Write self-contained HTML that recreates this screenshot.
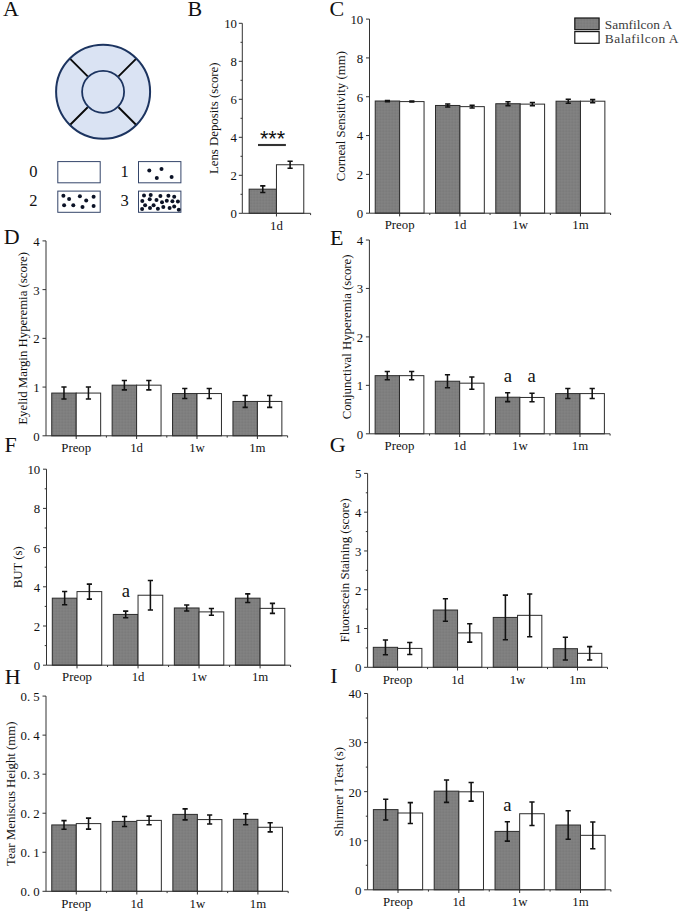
<!DOCTYPE html>
<html lang="en"><head><meta charset="utf-8"><title>Figure</title>
<style>
html,body{margin:0;padding:0;background:#fff}
svg{display:block}
text{font-family:"Liberation Serif","Times New Roman",serif;font-size:12.8px;fill:#111}
.pl{font-size:22px;fill:#111}
.lg{font-family:"Liberation Serif","Liberation Mono",serif;font-size:13.4px;fill:#3a3a3a}
.nm{font-size:16.5px;fill:#111}
</style></head><body>
<svg width="685" height="913" viewBox="0 0 685 913">
<defs>
<pattern id="gp" width="3" height="3" patternUnits="userSpaceOnUse">
<rect width="3" height="3" fill="#7f7f7f"/>
<rect width="1.5" height="1.5" fill="#828282"/>
<rect x="1.5" y="1.5" width="1.5" height="1.5" fill="#7b7b7b"/>
</pattern>
</defs>
<rect width="685" height="913" fill="#fff"/>

<text class="pl" x="3" y="16.3">A</text>
<text class="pl" x="187.5" y="16.3">B</text>
<text class="pl" x="329.5" y="16.1">C</text>
<text class="pl" x="3.8" y="244">D</text>
<text class="pl" x="330" y="244.5">E</text>
<text class="pl" x="4.5" y="452.3">F</text>
<text class="pl" x="329.8" y="452.3">G</text>
<text class="pl" x="4.8" y="683.6">H</text>
<text class="pl" x="330.3" y="683">I</text>
<circle cx="103.1" cy="91.8" r="47.0" fill="#dae3f3" stroke="#1c3460" stroke-width="2"/>
<circle cx="103.1" cy="91.8" r="21.0" fill="#dae3f3" stroke="#1c3460" stroke-width="1.8"/>
<path d="M118.51 107.21L135.77 124.47M118.51 76.39L135.77 59.13M87.69 107.21L70.43 124.47M87.69 76.39L70.43 59.13" stroke="#0a0a0a" stroke-width="1.9" fill="none"/>
<rect x="57.8" y="161.6" width="42.4" height="21.2" fill="#fff" stroke="#34456a" stroke-width="1"/>
<rect x="138.5" y="161.6" width="42.4" height="21.2" fill="#fff" stroke="#34456a" stroke-width="1"/>
<rect x="57.8" y="191.1" width="42.4" height="21.2" fill="#fff" stroke="#34456a" stroke-width="1"/>
<rect x="138.5" y="191.1" width="42.4" height="21.2" fill="#fff" stroke="#34456a" stroke-width="1"/>
<text class="nm" x="29.3" y="176.9">0</text>
<text class="nm" x="120.4" y="176.9">1</text>
<text class="nm" x="29.3" y="205.8">2</text>
<text class="nm" x="120.6" y="205.8">3</text>
<g fill="#0b1226"><circle cx="149.3" cy="170.5" r="2"/><circle cx="161.5" cy="169" r="2"/><circle cx="156.8" cy="177.9" r="2"/><circle cx="171.6" cy="176.9" r="2"/><circle cx="63.4" cy="195.7" r="2"/><circle cx="69.1" cy="199.1" r="2"/><circle cx="79.9" cy="196.2" r="2"/><circle cx="86.2" cy="200.4" r="2"/><circle cx="93.6" cy="196.8" r="2"/><circle cx="64.1" cy="205.2" r="2"/><circle cx="73.3" cy="205.2" r="2"/><circle cx="82.5" cy="207" r="2"/><circle cx="93.6" cy="206" r="2"/><circle cx="144.0" cy="195.6" r="2"/><circle cx="150.7" cy="194.9" r="2"/><circle cx="160.4" cy="195.9" r="2"/><circle cx="168.4" cy="195.7" r="2"/><circle cx="174.2" cy="196.7" r="2"/><circle cx="142.3" cy="200.9" r="2"/><circle cx="149.7" cy="199.2" r="2"/><circle cx="156.5" cy="199.9" r="2"/><circle cx="162.0" cy="202.3" r="2"/><circle cx="166.8" cy="200.7" r="2"/><circle cx="172.4" cy="201.2" r="2"/><circle cx="177.9" cy="201.6" r="2"/><circle cx="145.1" cy="205.2" r="2"/><circle cx="153.6" cy="205.2" r="2"/><circle cx="163.3" cy="207.1" r="2"/><circle cx="174.2" cy="206.4" r="2"/><circle cx="142.1" cy="209.0" r="2"/><circle cx="150.0" cy="208.0" r="2"/><circle cx="157.9" cy="208.7" r="2"/><circle cx="169.6" cy="208.0" r="2"/><circle cx="178.8" cy="209.7" r="2"/></g>
<g><rect x="249.13" y="189.17" width="27.32" height="24.13" fill="url(#gp)" stroke="#2b2b2b" stroke-width="1"/><rect x="276.45" y="164.75" width="27.32" height="48.55" fill="#fff" stroke="#2b2b2b" stroke-width="1"/><path d="M262.79 185.87V192.47M260.19 185.87H265.39M260.19 192.47H265.39" stroke="#111" stroke-width="1.55" fill="none"/><path d="M290.11 161.31V168.2M287.51 161.31H292.71M287.51 168.2H292.71" stroke="#111" stroke-width="1.55" fill="none"/><path d="M242.3 23.3V213.3H310.6M238.8 213.3H242.3M238.8 175.3H242.3M238.8 137.3H242.3M238.8 99.3H242.3M238.8 61.3H242.3M238.8 23.3H242.3M240.5 194.3H242.3M240.5 156.3H242.3M240.5 118.3H242.3M240.5 80.3H242.3M240.5 42.3H242.3M276.45 213.3v3.2M310.6 213.3v1.8" stroke="#333" stroke-width="1" fill="none"/><text x="237" y="218.2" text-anchor="end">0</text><text x="237" y="180.2" text-anchor="end">2</text><text x="237" y="142.2" text-anchor="end">4</text><text x="237" y="104.2" text-anchor="end">6</text><text x="237" y="66.2" text-anchor="end">8</text><text x="237" y="28.2" text-anchor="end">10</text><text x="276.45" y="229.5" text-anchor="middle">1d</text><text transform="translate(218.4 118.3) rotate(-90)" text-anchor="middle">Lens Deposits (score)</text></g>
<path d="M258 145H285.9" stroke="#333" stroke-width="2.1"/>
<text x="272.5" y="145.6" text-anchor="middle" style="font-family:'Liberation Sans',sans-serif;font-size:21.5px;fill:#111">***</text>
<g><rect x="375.23" y="101.01" width="24.41" height="112.19" fill="url(#gp)" stroke="#2b2b2b" stroke-width="1"/><rect x="399.64" y="101.59" width="24.41" height="111.61" fill="#fff" stroke="#2b2b2b" stroke-width="1"/><path d="M387.43 100.41V101.61M384.83 100.41H390.03M384.83 101.61H390.03" stroke="#111" stroke-width="1.55" fill="none"/><path d="M411.84 101.09V102.09M409.24 101.09H414.44M409.24 102.09H414.44" stroke="#111" stroke-width="1.55" fill="none"/><rect x="435.5" y="105.47" width="24.41" height="107.73" fill="url(#gp)" stroke="#2b2b2b" stroke-width="1"/><rect x="459.91" y="106.64" width="24.41" height="106.56" fill="#fff" stroke="#2b2b2b" stroke-width="1"/><path d="M447.71 103.97V106.97M445.11 103.97H450.31M445.11 106.97H450.31" stroke="#111" stroke-width="1.55" fill="none"/><path d="M472.12 105.24V108.04M469.52 105.24H474.72M469.52 108.04H474.72" stroke="#111" stroke-width="1.55" fill="none"/><rect x="495.78" y="103.73" width="24.41" height="109.47" fill="url(#gp)" stroke="#2b2b2b" stroke-width="1"/><rect x="520.19" y="104.12" width="24.41" height="109.08" fill="#fff" stroke="#2b2b2b" stroke-width="1"/><path d="M507.98 101.83V105.63M505.38 101.83H510.58M505.38 105.63H510.58" stroke="#111" stroke-width="1.55" fill="none"/><path d="M532.39 102.52V105.72M529.79 102.52H534.99M529.79 105.72H534.99" stroke="#111" stroke-width="1.55" fill="none"/><rect x="556.05" y="101.2" width="24.41" height="112" fill="url(#gp)" stroke="#2b2b2b" stroke-width="1"/><rect x="580.46" y="101.2" width="24.41" height="112" fill="#fff" stroke="#2b2b2b" stroke-width="1"/><path d="M568.26 99.2V103.2M565.66 99.2H570.86M565.66 103.2H570.86" stroke="#111" stroke-width="1.55" fill="none"/><path d="M592.67 99.6V102.8M590.07 99.6H595.27M590.07 102.8H595.27" stroke="#111" stroke-width="1.55" fill="none"/><path d="M369.5 19.1V213.2H610.6M366 213.2H369.5M366 174.38H369.5M366 135.56H369.5M366 96.74H369.5M366 57.92H369.5M366 19.1H369.5M399.64 213.2v3.2M429.77 213.2v1.8M459.91 213.2v3.2M490.05 213.2v1.8M520.19 213.2v3.2M550.33 213.2v1.8M580.46 213.2v3.2M610.6 213.2v1.8" stroke="#333" stroke-width="1" fill="none"/><text x="363.2" y="218.1" text-anchor="end">0</text><text x="363.2" y="179.28" text-anchor="end">2</text><text x="363.2" y="140.46" text-anchor="end">4</text><text x="363.2" y="101.64" text-anchor="end">6</text><text x="363.2" y="62.82" text-anchor="end">8</text><text x="363.2" y="24" text-anchor="end">10</text><text x="399.64" y="229.4" text-anchor="middle">Preop</text><text x="459.91" y="229.4" text-anchor="middle">1d</text><text x="520.19" y="229.4" text-anchor="middle">1w</text><text x="580.46" y="229.4" text-anchor="middle">1m</text><text transform="translate(345.2 116.15) rotate(-90)" text-anchor="middle">Corneal Sensitivity (mm)</text></g>
<rect x="574.8" y="18" width="24.3" height="11.7" fill="url(#gp)" stroke="#151515" stroke-width="1.2"/>
<rect x="574.8" y="31.6" width="24.3" height="11.7" fill="#fff" stroke="#151515" stroke-width="1.2"/>
<text class="lg" x="604.8" y="28.9" textLength="67.3" lengthAdjust="spacing">Samfilcon A</text>
<text class="lg" x="604.8" y="42.6" textLength="73.6" lengthAdjust="spacing">Balafilcon A</text>
<g><rect x="51.74" y="393.07" width="24.46" height="42.73" fill="url(#gp)" stroke="#2b2b2b" stroke-width="1"/><rect x="76.2" y="393.07" width="24.46" height="42.73" fill="#fff" stroke="#2b2b2b" stroke-width="1"/><path d="M63.97 387.07V399.07M61.37 387.07H66.57M61.37 399.07H66.57" stroke="#111" stroke-width="1.55" fill="none"/><path d="M88.43 387.07V399.07M85.83 387.07H91.03M85.83 399.07H91.03" stroke="#111" stroke-width="1.55" fill="none"/><rect x="112.14" y="385.17" width="24.46" height="50.63" fill="url(#gp)" stroke="#2b2b2b" stroke-width="1"/><rect x="136.6" y="385.17" width="24.46" height="50.63" fill="#fff" stroke="#2b2b2b" stroke-width="1"/><path d="M124.37 380.47V389.87M121.77 380.47H126.97M121.77 389.87H126.97" stroke="#111" stroke-width="1.55" fill="none"/><path d="M148.83 380.47V389.87M146.23 380.47H151.43M146.23 389.87H151.43" stroke="#111" stroke-width="1.55" fill="none"/><rect x="172.54" y="393.56" width="24.46" height="42.24" fill="url(#gp)" stroke="#2b2b2b" stroke-width="1"/><rect x="197" y="393.56" width="24.46" height="42.24" fill="#fff" stroke="#2b2b2b" stroke-width="1"/><path d="M184.77 388.56V398.56M182.17 388.56H187.37M182.17 398.56H187.37" stroke="#111" stroke-width="1.55" fill="none"/><path d="M209.23 388.56V398.56M206.63 388.56H211.83M206.63 398.56H211.83" stroke="#111" stroke-width="1.55" fill="none"/><rect x="232.94" y="401.45" width="24.46" height="34.35" fill="url(#gp)" stroke="#2b2b2b" stroke-width="1"/><rect x="257.4" y="401.45" width="24.46" height="34.35" fill="#fff" stroke="#2b2b2b" stroke-width="1"/><path d="M245.17 395.55V407.35M242.57 395.55H247.77M242.57 407.35H247.77" stroke="#111" stroke-width="1.55" fill="none"/><path d="M269.63 395.55V407.35M267.03 395.55H272.23M267.03 407.35H272.23" stroke="#111" stroke-width="1.55" fill="none"/><path d="M46 240.9V435.8H287.6M42.5 435.8H46M42.5 387.07H46M42.5 338.35H46M42.5 289.62H46M42.5 240.9H46M76.2 435.8v3.2M106.4 435.8v1.8M136.6 435.8v3.2M166.8 435.8v1.8M197 435.8v3.2M227.2 435.8v1.8M257.4 435.8v3.2M287.6 435.8v1.8" stroke="#333" stroke-width="1" fill="none"/><text x="39.7" y="440.7" text-anchor="end">0</text><text x="39.7" y="391.97" text-anchor="end">1</text><text x="39.7" y="343.25" text-anchor="end">2</text><text x="39.7" y="294.52" text-anchor="end">3</text><text x="39.7" y="245.8" text-anchor="end">4</text><text x="76.2" y="452" text-anchor="middle">Preop</text><text x="136.6" y="452" text-anchor="middle">1d</text><text x="197" y="452" text-anchor="middle">1w</text><text x="257.4" y="452" text-anchor="middle">1m</text><text transform="translate(27.1 338.35) rotate(-90)" text-anchor="middle">Eyelid Margin Hyperemia (score)</text></g>
<g><rect x="375.12" y="375.66" width="24.37" height="58.14" fill="url(#gp)" stroke="#2b2b2b" stroke-width="1"/><rect x="399.49" y="375.66" width="24.37" height="58.14" fill="#fff" stroke="#2b2b2b" stroke-width="1"/><path d="M387.3 371.56V379.76M384.7 371.56H389.9M384.7 379.76H389.9" stroke="#111" stroke-width="1.55" fill="none"/><path d="M411.67 371.56V379.76M409.07 371.56H414.27M409.07 379.76H414.27" stroke="#111" stroke-width="1.55" fill="none"/><rect x="435.29" y="381.23" width="24.37" height="52.57" fill="url(#gp)" stroke="#2b2b2b" stroke-width="1"/><rect x="459.66" y="383.17" width="24.37" height="50.63" fill="#fff" stroke="#2b2b2b" stroke-width="1"/><path d="M447.48 374.73V387.73M444.88 374.73H450.08M444.88 387.73H450.08" stroke="#111" stroke-width="1.55" fill="none"/><path d="M471.85 377.07V389.27M469.25 377.07H474.45M469.25 389.27H474.45" stroke="#111" stroke-width="1.55" fill="none"/><rect x="495.47" y="397.22" width="24.37" height="36.58" fill="url(#gp)" stroke="#2b2b2b" stroke-width="1"/><rect x="519.84" y="397.46" width="24.37" height="36.34" fill="#fff" stroke="#2b2b2b" stroke-width="1"/><path d="M507.65 392.82V401.62M505.05 392.82H510.25M505.05 401.62H510.25" stroke="#111" stroke-width="1.55" fill="none"/><path d="M532.02 393.26V401.66M529.42 393.26H534.62M529.42 401.66H534.62" stroke="#111" stroke-width="1.55" fill="none"/><rect x="555.64" y="393.59" width="24.37" height="40.21" fill="url(#gp)" stroke="#2b2b2b" stroke-width="1"/><rect x="580.01" y="393.59" width="24.37" height="40.21" fill="#fff" stroke="#2b2b2b" stroke-width="1"/><path d="M567.83 388.59V398.59M565.23 388.59H570.43M565.23 398.59H570.43" stroke="#111" stroke-width="1.55" fill="none"/><path d="M592.2 388.59V398.59M589.6 388.59H594.8M589.6 398.59H594.8" stroke="#111" stroke-width="1.55" fill="none"/><path d="M369.4 240V433.8H610.1M365.9 433.8H369.4M365.9 385.35H369.4M365.9 336.9H369.4M365.9 288.45H369.4M365.9 240H369.4M399.49 433.8v3.2M429.57 433.8v1.8M459.66 433.8v3.2M489.75 433.8v1.8M519.84 433.8v3.2M549.92 433.8v1.8M580.01 433.8v3.2M610.1 433.8v1.8" stroke="#333" stroke-width="1" fill="none"/><text x="363.1" y="438.7" text-anchor="end">0</text><text x="363.1" y="390.25" text-anchor="end">1</text><text x="363.1" y="341.8" text-anchor="end">2</text><text x="363.1" y="293.35" text-anchor="end">3</text><text x="363.1" y="244.9" text-anchor="end">4</text><text x="399.49" y="450" text-anchor="middle">Preop</text><text x="459.66" y="450" text-anchor="middle">1d</text><text x="519.84" y="450" text-anchor="middle">1w</text><text x="580.01" y="450" text-anchor="middle">1m</text><text transform="translate(351.1 336.9) rotate(-90)" text-anchor="middle">Conjunctival Hyperemia (score)</text><text x="507.8" y="381.5" text-anchor="middle" style="font-size:18.6px">a</text><text x="531.6" y="381.5" text-anchor="middle" style="font-size:18.6px">a</text></g>
<g><rect x="52.3" y="598.17" width="24.72" height="67.03" fill="url(#gp)" stroke="#2b2b2b" stroke-width="1"/><rect x="77.01" y="591.6" width="24.72" height="73.6" fill="#fff" stroke="#2b2b2b" stroke-width="1"/><path d="M64.65 591.57V604.77M62.05 591.57H67.25M62.05 604.77H67.25" stroke="#111" stroke-width="1.55" fill="none"/><path d="M89.37 584.1V599.1M86.77 584.1H91.97M86.77 599.1H91.97" stroke="#111" stroke-width="1.55" fill="none"/><rect x="113.32" y="614.44" width="24.72" height="50.76" fill="url(#gp)" stroke="#2b2b2b" stroke-width="1"/><rect x="138.04" y="595.23" width="24.72" height="69.97" fill="#fff" stroke="#2b2b2b" stroke-width="1"/><path d="M125.68 611.14V617.74M123.08 611.14H128.28M123.08 617.74H128.28" stroke="#111" stroke-width="1.55" fill="none"/><path d="M150.4 580.53V609.93M147.8 580.53H153M147.8 609.93H153" stroke="#111" stroke-width="1.55" fill="none"/><rect x="174.35" y="607.97" width="24.72" height="57.23" fill="url(#gp)" stroke="#2b2b2b" stroke-width="1"/><rect x="199.06" y="611.89" width="24.72" height="53.31" fill="#fff" stroke="#2b2b2b" stroke-width="1"/><path d="M186.7 604.97V610.97M184.1 604.97H189.3M184.1 610.97H189.3" stroke="#111" stroke-width="1.55" fill="none"/><path d="M211.42 608.59V615.19M208.82 608.59H214.02M208.82 615.19H214.02" stroke="#111" stroke-width="1.55" fill="none"/><rect x="235.37" y="598.17" width="24.72" height="67.03" fill="url(#gp)" stroke="#2b2b2b" stroke-width="1"/><rect x="260.09" y="608.36" width="24.72" height="56.84" fill="#fff" stroke="#2b2b2b" stroke-width="1"/><path d="M247.73 593.87V602.47M245.13 593.87H250.33M245.13 602.47H250.33" stroke="#111" stroke-width="1.55" fill="none"/><path d="M272.45 603.36V613.36M269.85 603.36H275.05M269.85 613.36H275.05" stroke="#111" stroke-width="1.55" fill="none"/><path d="M46.5 469.2V665.2H290.6M43 665.2H46.5M43 626H46.5M43 586.8H46.5M43 547.6H46.5M43 508.4H46.5M43 469.2H46.5M44.7 645.6H46.5M44.7 606.4H46.5M44.7 567.2H46.5M44.7 528H46.5M44.7 488.8H46.5M77.01 665.2v3.2M107.53 665.2v1.8M138.04 665.2v3.2M168.55 665.2v1.8M199.06 665.2v3.2M229.58 665.2v1.8M260.09 665.2v3.2M290.6 665.2v1.8" stroke="#333" stroke-width="1" fill="none"/><text x="40.2" y="670.1" text-anchor="end">0</text><text x="40.2" y="630.9" text-anchor="end">2</text><text x="40.2" y="591.7" text-anchor="end">4</text><text x="40.2" y="552.5" text-anchor="end">6</text><text x="40.2" y="513.3" text-anchor="end">8</text><text x="40.2" y="474.1" text-anchor="end">10</text><text x="77.01" y="681.4" text-anchor="middle">Preop</text><text x="138.04" y="681.4" text-anchor="middle">1d</text><text x="199.06" y="681.4" text-anchor="middle">1w</text><text x="260.09" y="681.4" text-anchor="middle">1m</text><text transform="translate(21.8 567.2) rotate(-90)" text-anchor="middle">BUT (s)</text><text x="125.9" y="597.2" text-anchor="middle" style="font-size:18.6px">a</text></g>
<g><rect x="373.3" y="647.33" width="24.29" height="19.97" fill="url(#gp)" stroke="#2b2b2b" stroke-width="1"/><rect x="397.59" y="648.41" width="24.29" height="18.89" fill="#fff" stroke="#2b2b2b" stroke-width="1"/><path d="M385.44 639.98V654.68M382.84 639.98H388.04M382.84 654.68H388.04" stroke="#111" stroke-width="1.55" fill="none"/><path d="M409.73 642.41V654.41M407.13 642.41H412.33M407.13 654.41H412.33" stroke="#111" stroke-width="1.55" fill="none"/><rect x="433.27" y="610.02" width="24.29" height="57.28" fill="url(#gp)" stroke="#2b2b2b" stroke-width="1"/><rect x="457.56" y="632.9" width="24.29" height="34.4" fill="#fff" stroke="#2b2b2b" stroke-width="1"/><path d="M445.42 598.72V621.32M442.82 598.72H448.02M442.82 621.32H448.02" stroke="#111" stroke-width="1.55" fill="none"/><path d="M469.71 623.7V642.1M467.11 623.7H472.31M467.11 642.1H472.31" stroke="#111" stroke-width="1.55" fill="none"/><rect x="493.25" y="617.43" width="24.29" height="49.87" fill="url(#gp)" stroke="#2b2b2b" stroke-width="1"/><rect x="517.54" y="615.33" width="24.29" height="51.97" fill="#fff" stroke="#2b2b2b" stroke-width="1"/><path d="M505.39 595.13V639.73M502.79 595.13H507.99M502.79 639.73H507.99" stroke="#111" stroke-width="1.55" fill="none"/><path d="M529.68 593.93V636.73M527.08 593.93H532.28M527.08 636.73H532.28" stroke="#111" stroke-width="1.55" fill="none"/><rect x="553.22" y="648.69" width="24.29" height="18.61" fill="url(#gp)" stroke="#2b2b2b" stroke-width="1"/><rect x="577.51" y="653.34" width="24.29" height="13.96" fill="#fff" stroke="#2b2b2b" stroke-width="1"/><path d="M565.37 637.29V660.09M562.77 637.29H567.97M562.77 660.09H567.97" stroke="#111" stroke-width="1.55" fill="none"/><path d="M589.66 646.64V660.04M587.06 646.64H592.26M587.06 660.04H592.26" stroke="#111" stroke-width="1.55" fill="none"/><path d="M367.6 473.4V667.3H607.5M364.1 667.3H367.6M364.1 628.52H367.6M364.1 589.74H367.6M364.1 550.96H367.6M364.1 512.18H367.6M364.1 473.4H367.6M365.8 647.91H367.6M365.8 609.13H367.6M365.8 570.35H367.6M365.8 531.57H367.6M365.8 492.79H367.6M397.59 667.3v3.2M427.58 667.3v1.8M457.56 667.3v3.2M487.55 667.3v1.8M517.54 667.3v3.2M547.52 667.3v1.8M577.51 667.3v3.2M607.5 667.3v1.8" stroke="#333" stroke-width="1" fill="none"/><text x="361.3" y="672.2" text-anchor="end">0</text><text x="361.3" y="633.42" text-anchor="end">1</text><text x="361.3" y="594.64" text-anchor="end">2</text><text x="361.3" y="555.86" text-anchor="end">3</text><text x="361.3" y="517.08" text-anchor="end">4</text><text x="361.3" y="478.3" text-anchor="end">5</text><text x="397.59" y="683.5" text-anchor="middle">Preop</text><text x="457.56" y="683.5" text-anchor="middle">1d</text><text x="517.54" y="683.5" text-anchor="middle">1w</text><text x="577.51" y="683.5" text-anchor="middle">1m</text><text transform="translate(349.4 570.35) rotate(-90)" text-anchor="middle">Fluorescein Staining (score)</text></g>
<g><rect x="51.75" y="824.93" width="24.52" height="66.37" fill="url(#gp)" stroke="#2b2b2b" stroke-width="1"/><rect x="76.28" y="823.6" width="24.52" height="67.7" fill="#fff" stroke="#2b2b2b" stroke-width="1"/><path d="M64.01 820.63V829.23M61.41 820.63H66.61M61.41 829.23H66.61" stroke="#111" stroke-width="1.55" fill="none"/><path d="M88.54 818.1V829.1M85.94 818.1H91.14M85.94 829.1H91.14" stroke="#111" stroke-width="1.55" fill="none"/><rect x="112.3" y="821.42" width="24.52" height="69.88" fill="url(#gp)" stroke="#2b2b2b" stroke-width="1"/><rect x="136.82" y="820.4" width="24.52" height="70.9" fill="#fff" stroke="#2b2b2b" stroke-width="1"/><path d="M124.56 816.42V826.42M121.96 816.42H127.16M121.96 826.42H127.16" stroke="#111" stroke-width="1.55" fill="none"/><path d="M149.09 816.1V824.7M146.49 816.1H151.69M146.49 824.7H151.69" stroke="#111" stroke-width="1.55" fill="none"/><rect x="172.85" y="814.39" width="24.52" height="76.91" fill="url(#gp)" stroke="#2b2b2b" stroke-width="1"/><rect x="197.38" y="819.58" width="24.52" height="71.72" fill="#fff" stroke="#2b2b2b" stroke-width="1"/><path d="M185.11 808.89V819.89M182.51 808.89H187.71M182.51 819.89H187.71" stroke="#111" stroke-width="1.55" fill="none"/><path d="M209.64 815.08V824.08M207.04 815.08H212.24M207.04 824.08H212.24" stroke="#111" stroke-width="1.55" fill="none"/><rect x="233.4" y="819.31" width="24.52" height="71.99" fill="url(#gp)" stroke="#2b2b2b" stroke-width="1"/><rect x="257.92" y="827.27" width="24.52" height="64.03" fill="#fff" stroke="#2b2b2b" stroke-width="1"/><path d="M245.66 813.81V824.81M243.06 813.81H248.26M243.06 824.81H248.26" stroke="#111" stroke-width="1.55" fill="none"/><path d="M270.19 822.67V831.87M267.59 822.67H272.79M267.59 831.87H272.79" stroke="#111" stroke-width="1.55" fill="none"/><path d="M46 696.1V891.3H288.2M42.5 891.3H46M42.5 852.26H46M42.5 813.22H46M42.5 774.18H46M42.5 735.14H46M42.5 696.1H46M76.28 891.3v3.2M106.55 891.3v1.8M136.82 891.3v3.2M167.1 891.3v1.8M197.38 891.3v3.2M227.65 891.3v1.8M257.92 891.3v3.2M288.2 891.3v1.8" stroke="#333" stroke-width="1" fill="none"/><text x="39.7" y="896.2" text-anchor="end">0. 0</text><text x="39.7" y="857.16" text-anchor="end">0. 1</text><text x="39.7" y="818.12" text-anchor="end">0. 2</text><text x="39.7" y="779.08" text-anchor="end">0. 3</text><text x="39.7" y="740.04" text-anchor="end">0. 4</text><text x="39.7" y="701" text-anchor="end">0. 5</text><text x="76.28" y="907.5" text-anchor="middle">Preop</text><text x="136.82" y="907.5" text-anchor="middle">1d</text><text x="197.38" y="907.5" text-anchor="middle">1w</text><text x="257.92" y="907.5" text-anchor="middle">1m</text><text transform="translate(14.7 793.7) rotate(-90)" text-anchor="middle">Tear Meniscus Height (mm)</text></g>
<g><rect x="373.38" y="809.61" width="24.63" height="80.19" fill="url(#gp)" stroke="#2b2b2b" stroke-width="1"/><rect x="398.01" y="813" width="24.63" height="76.8" fill="#fff" stroke="#2b2b2b" stroke-width="1"/><path d="M385.7 799.21V820.01M383.1 799.21H388.3M383.1 820.01H388.3" stroke="#111" stroke-width="1.55" fill="none"/><path d="M410.33 802.6V823.4M407.73 802.6H412.93M407.73 823.4H412.93" stroke="#111" stroke-width="1.55" fill="none"/><rect x="434.2" y="791.16" width="24.63" height="98.64" fill="url(#gp)" stroke="#2b2b2b" stroke-width="1"/><rect x="458.84" y="791.8" width="24.63" height="98" fill="#fff" stroke="#2b2b2b" stroke-width="1"/><path d="M446.52 779.96V802.36M443.92 779.96H449.12M443.92 802.36H449.12" stroke="#111" stroke-width="1.55" fill="none"/><path d="M471.15 782.5V801.1M468.55 782.5H473.75M468.55 801.1H473.75" stroke="#111" stroke-width="1.55" fill="none"/><rect x="495.03" y="831.4" width="24.63" height="58.4" fill="url(#gp)" stroke="#2b2b2b" stroke-width="1"/><rect x="519.66" y="813.73" width="24.63" height="76.07" fill="#fff" stroke="#2b2b2b" stroke-width="1"/><path d="M507.35 821.7V841.1M504.75 821.7H509.95M504.75 841.1H509.95" stroke="#111" stroke-width="1.55" fill="none"/><path d="M531.98 801.93V825.53M529.38 801.93H534.58M529.38 825.53H534.58" stroke="#111" stroke-width="1.55" fill="none"/><rect x="555.85" y="825.02" width="24.63" height="64.78" fill="url(#gp)" stroke="#2b2b2b" stroke-width="1"/><rect x="580.49" y="835.33" width="24.63" height="54.47" fill="#fff" stroke="#2b2b2b" stroke-width="1"/><path d="M568.17 810.72V839.32M565.57 810.72H570.77M565.57 839.32H570.77" stroke="#111" stroke-width="1.55" fill="none"/><path d="M592.8 821.93V848.73M590.2 821.93H595.4M590.2 848.73H595.4" stroke="#111" stroke-width="1.55" fill="none"/><path d="M367.6 693.5V889.8H610.9M364.1 889.8H367.6M364.1 840.72H367.6M364.1 791.65H367.6M364.1 742.58H367.6M364.1 693.5H367.6M365.8 865.26H367.6M365.8 816.19H367.6M365.8 767.11H367.6M365.8 718.04H367.6M398.01 889.8v3.2M428.43 889.8v1.8M458.84 889.8v3.2M489.25 889.8v1.8M519.66 889.8v3.2M550.08 889.8v1.8M580.49 889.8v3.2M610.9 889.8v1.8" stroke="#333" stroke-width="1" fill="none"/><text x="361.3" y="894.7" text-anchor="end">0</text><text x="361.3" y="845.62" text-anchor="end">10</text><text x="361.3" y="796.55" text-anchor="end">20</text><text x="361.3" y="747.48" text-anchor="end">30</text><text x="361.3" y="698.4" text-anchor="end">40</text><text x="398.01" y="906" text-anchor="middle">Preop</text><text x="458.84" y="906" text-anchor="middle">1d</text><text x="519.66" y="906" text-anchor="middle">1w</text><text x="580.49" y="906" text-anchor="middle">1m</text><text transform="translate(343.1 791.65) rotate(-90)" text-anchor="middle">Shirmer I Test (s)</text><text x="507.4" y="810.7" text-anchor="middle" style="font-size:18.6px">a</text></g>
</svg></body></html>
